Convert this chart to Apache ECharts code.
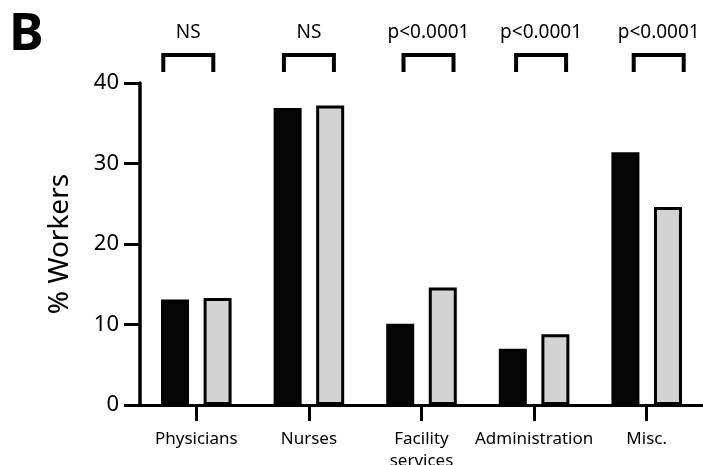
<!DOCTYPE html>
<html>
<head>
<meta charset="utf-8">
<script src="https://cdn.jsdelivr.net/npm/echarts@6/dist/echarts.min.js"></script>
<style>html,body{margin:0;padding:0;background:#fff}#c{width:703px;height:465px}</style>
</head>
<body>
<div id="c"></div>
<script>
var categories = ['Physicians', 'Nurses', 'Facility\nservices', 'Administration', 'Misc.'];
var group1 = [13.1, 36.9, 10.1, 7.0, 31.4];
var group2 = [13.3, 37.2, 14.6, 8.8, 24.6];
var sigLabels = ['NS', 'NS', 'p<0.0001', 'p<0.0001', 'p<0.0001'];
var yTicks = [0, 10, 20, 30, 40];

var FONT = '"Noto Sans", sans-serif';
// horizontal placement tweaks of the significance brackets (px)
var bracketShift = [-8, 0, 7, 7, 12];

var chart = echarts.init(document.getElementById('c'));
chart.setOption({
  animation: false,
  title: {
    text: 'B', left: 4, top: 4,
    textStyle: { fontFamily: FONT, fontWeight: 'bold', fontSize: 52, color: '#000' }
  },
  grid: { left: 140, width: 563, top: 83, bottom: 60, containLabel: false, outerBoundsMode: 'none' },
  xAxis: {
    type: 'category',
    data: categories,
    axisLine: { show: true, lineStyle: { color: '#000', width: 3 } },
    axisTick: { show: true, alignWithLabel: true, interval: 0, length: 16, lineStyle: { color: '#000', width: 3 } },
    axisLabel: { interval: 0, color: '#000', fontFamily: FONT, fontSize: 17, margin: 23, lineHeight: 22 }
  },
  yAxis: {
    type: 'value',
    min: 0, max: 40, interval: 10,
    name: '% Workers',
    nameLocation: 'middle',
    nameGap: 66,
    nameTextStyle: { color: '#000', fontFamily: FONT, fontSize: 28 },
    axisLine: { show: true, lineStyle: { color: '#000', width: 3.5 } },
    axisTick: { show: true, length: 16, lineStyle: { color: '#000', width: 3 } },
    axisLabel: {
      color: '#000', fontFamily: FONT, fontSize: 22, margin: 21,
      formatter: function (v) { return yTicks.indexOf(v) >= 0 ? String(v) : ''; }
    },
    splitLine: { show: false }
  },
  series: [
    {
      type: 'bar', data: group1, barWidth: 28, barGap: '52%',
      itemStyle: { color: '#050505', borderColor: '#000', borderWidth: 3 }
    },
    {
      type: 'bar', data: group2, barWidth: 28,
      itemStyle: { color: '#d3d3d3', borderColor: '#000', borderWidth: 3 }
    },
    {
      type: 'custom',
      clip: false,
      silent: true,
      data: sigLabels.map(function (s, i) { return [i, 40]; }),
      renderItem: function (params, api) {
        var i = api.value(0);
        var p = api.coord([i, api.value(1)]);
        var cx = p[0] + bracketShift[i];
        var top = p[1] - 28, bot = p[1] - 11, hw = 25;
        return {
          type: 'group',
          children: [
            {
              type: 'polyline',
              shape: { points: [[cx - hw, bot], [cx - hw, top], [cx + hw, top], [cx + hw, bot]] },
              style: { stroke: '#000', lineWidth: 4, fill: null, lineJoin: 'miter' }
            },
            {
              type: 'text',
              style: {
                text: sigLabels[i], x: cx, y: p[1] - 50,
                align: 'center', verticalAlign: 'middle',
                fontFamily: FONT, fontSize: 19, fill: '#000'
              }
            }
          ]
        };
      }
    }
  ]
});
</script>
</body>
</html>
